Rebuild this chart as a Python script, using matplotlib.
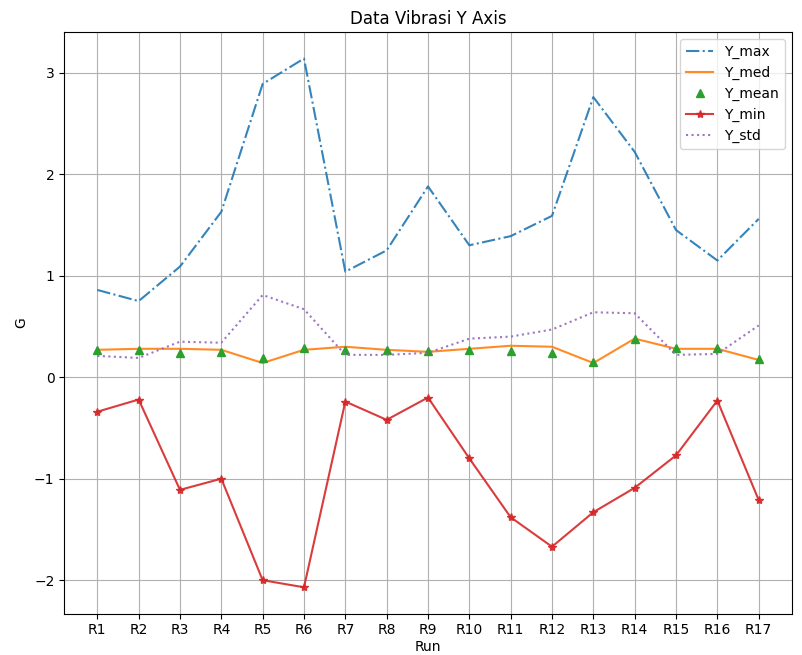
import matplotlib
matplotlib.use("Agg")
import matplotlib.pyplot as plt

runs = [f"R{i}" for i in range(1, 18)]
y_max = [0.86, 0.75, 1.09, 1.63, 2.89, 3.14, 1.04, 1.25, 1.88, 1.30, 1.39, 1.59, 2.76, 2.22, 1.45, 1.15, 1.56]
y_med = [0.27, 0.28, 0.28, 0.27, 0.14, 0.27, 0.30, 0.27, 0.25, 0.28, 0.31, 0.30, 0.14, 0.38, 0.28, 0.28, 0.17]
y_mean = [0.27, 0.27, 0.24, 0.25, 0.19, 0.29, 0.27, 0.27, 0.26, 0.27, 0.26, 0.24, 0.15, 0.38, 0.29, 0.29, 0.18]
y_min = [-0.34, -0.22, -1.11, -1.00, -2.00, -2.07, -0.24, -0.42, -0.20, -0.80, -1.38, -1.67, -1.33, -1.09, -0.77, -0.23, -1.21]
y_std = [0.21, 0.19, 0.35, 0.34, 0.81, 0.67, 0.22, 0.22, 0.24, 0.38, 0.40, 0.47, 0.64, 0.63, 0.22, 0.23, 0.51]

fig = plt.figure(figsize=(8.03, 6.55), dpi=100)
ax = fig.add_axes([0.080, 0.063, 0.906, 0.888])

ax.plot(runs, y_max, '-.', color='C0', label='Y_max', alpha=0.9)
ax.plot(runs, y_med, '-', color='C1', label='Y_med', alpha=0.9)
ax.plot(runs, y_mean, '^', color='C2', label='Y_mean', linestyle='none')
ax.plot(runs, y_min, '*-', color='C3', label='Y_min', alpha=0.9)
ax.plot(runs, y_std, ':', color='C4', label='Y_std', alpha=0.9)

ax.set_title('Data Vibrasi Y Axis')
ax.set_xlabel('Run', labelpad=2)
ax.set_ylabel('G')
ax.grid(True)
ax.legend(loc='upper right')

fig.savefig('out.png', dpi=100)
